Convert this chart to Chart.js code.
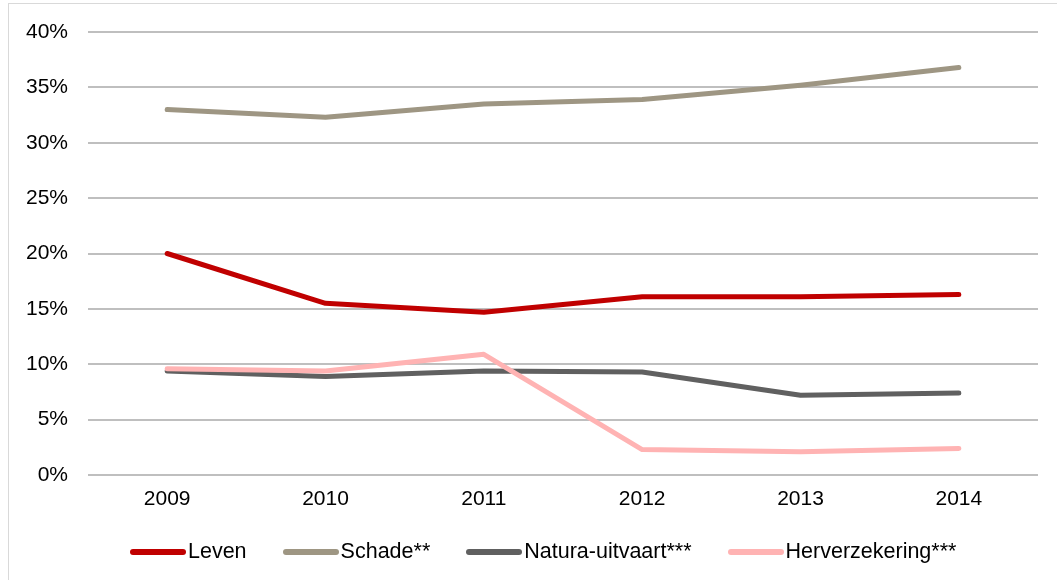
<!DOCTYPE html>
<html>
<head>
<meta charset="utf-8">
<script src="https://cdn.jsdelivr.net/npm/chart.js@4"></script>
<style>
    html, body { margin: 0; padding: 0; background: #fff; }
    #kader {
        position: absolute; left: 8px; top: 3px;
        width: 1060px; height: 590px;
        border: 1px solid #d9d9d9; box-sizing: border-box;
    }
    #grafiek { position: absolute; left: 0; top: 0; }
    #legenda {
        position: absolute; left: 130px; top: 539px;
        display: flex; align-items: center; gap: 36px;
        font: 21.5px 'Liberation Sans', Arial, sans-serif; color: #000;
    }
    .item { display: flex; align-items: center; }
    .streep { width: 56px; height: 6px; border-radius: 3px; margin-right: 2px; }
</style>
</head>
<body>
<div id="kader">
    <canvas id="grafiek" width="1048" height="576"></canvas>
</div>
<div id="legenda"></div>
<script>
// --- DATA ---
const jaren = ['2009', '2010', '2011', '2012', '2013', '2014'];
const leven = [20.0, 15.5, 14.7, 16.1, 16.1, 16.3];
const schade = [33.0, 32.3, 33.5, 33.9, 35.2, 36.8];
const naturaUitvaart = [9.4, 8.9, 9.4, 9.3, 7.2, 7.4];
const herverzekering = [9.6, 9.4, 10.9, 2.3, 2.1, 2.4];

const fijn = 'Liberation Sans, Arial, sans-serif';

function lijn(label, data, kleur, volgorde) {
    return {
        label: label,
        data: data,
        borderColor: kleur,
        backgroundColor: kleur,
        borderWidth: 5,
        borderCapStyle: 'round',
        borderJoinStyle: 'round',
        pointRadius: 0,
        pointHoverRadius: 0,
        tension: 0,
        order: volgorde
    };
}

const grafiek = new Chart(document.getElementById('grafiek').getContext('2d'), {
    type: 'line',
    data: {
        labels: jaren,
        datasets: [
            lijn('Leven', leven, '#c00000', 1),
            lijn('Schade**', schade, '#9e9683', 1),
            lijn('Natura-uitvaart***', naturaUitvaart, '#606060', 1),
            lijn('Herverzekering***', herverzekering, '#ffb3b3', 0)
        ]
    },
    options: {
        responsive: false,
        animation: false,
        layout: { padding: { left: 0, right: 19, top: 28, bottom: 65 } },
        plugins: {
            tooltip: { enabled: false },
            legend: { display: false }
        },
        scales: {
            x: {
                offset: true,
                grid: { display: false },
                border: { display: false },
                ticks: { color: '#000', font: { family: fijn, size: 21 }, padding: 4 },
                afterFit: s => { s.height = 40; }
            },
            y: {
                min: 0,
                max: 40,
                ticks: {
                    stepSize: 5,
                    color: '#000',
                    font: { family: fijn, size: 21 },
                    padding: 20,
                    callback: v => v + '%'
                },
                grid: { color: '#bfbfbf', lineWidth: 2, drawTicks: false },
                border: { display: false },
                afterFit: s => { s.width = 79; s.paddingTop = 0; s.paddingBottom = 0; }
            }
        }
    }
});

// legenda in HTML (streep direct tegen de tekst, zoals het origineel)
const legenda = document.getElementById('legenda');
grafiek.data.datasets.forEach(ds => {
    const item = document.createElement('div');
    item.className = 'item';
    const streep = document.createElement('span');
    streep.className = 'streep';
    streep.style.background = ds.borderColor;
    const tekst = document.createElement('span');
    tekst.textContent = ds.label;
    item.appendChild(streep);
    item.appendChild(tekst);
    legenda.appendChild(item);
});
</script>
</body>
</html>
